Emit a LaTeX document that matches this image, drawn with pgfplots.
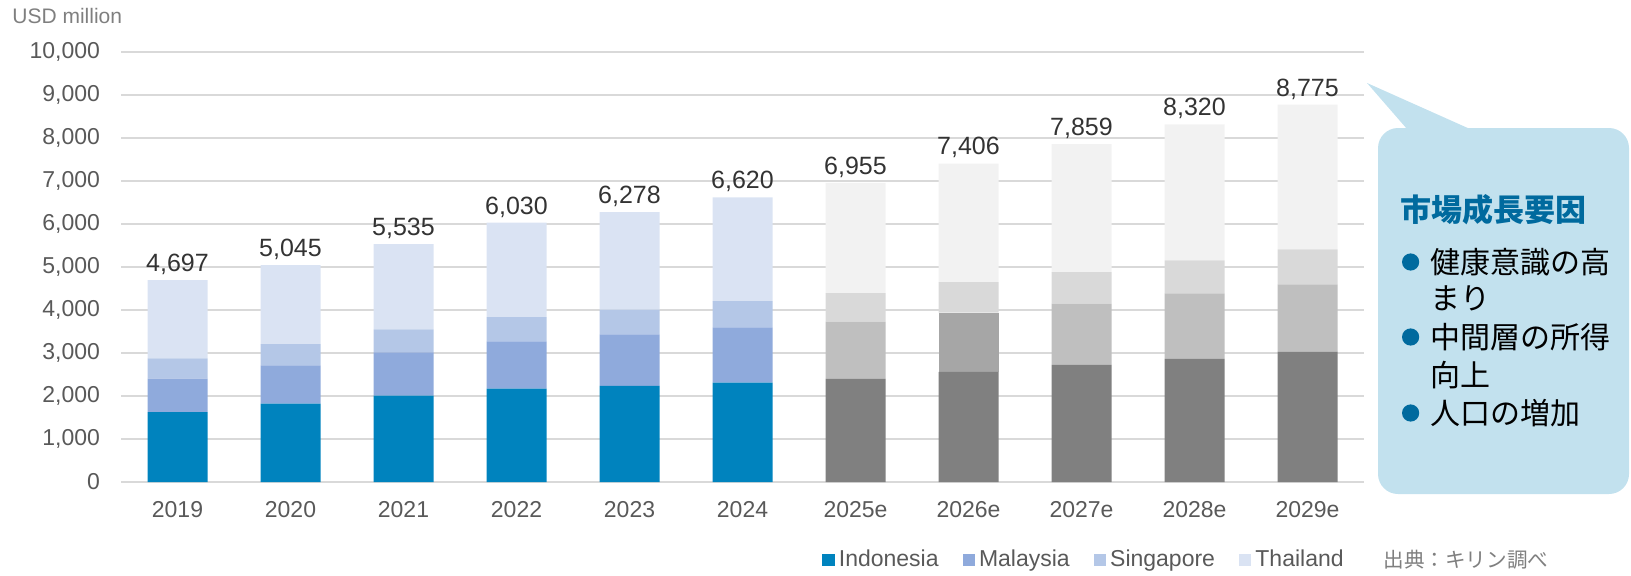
\documentclass[border=0pt]{standalone}
\usepackage{pgfplots}
\pgfplotsset{compat=1.18}
\usepackage{pgfplotstable}
\usepackage{fontspec}
\setmainfont{Liberation Sans}
\newfontfamily\cjk{Noto Sans CJK JP}

\definecolor{indoA}{HTML}{0083BE}
\definecolor{malA}{HTML}{8FAADC}
\definecolor{singA}{HTML}{B4C7E7}
\definecolor{thaiA}{HTML}{DAE3F3}
\definecolor{indoF}{HTML}{808080}
\definecolor{malF}{HTML}{BFBFBF}
\definecolor{malFdark}{HTML}{A6A6A6}
\definecolor{singF}{HTML}{D9D9D9}
\definecolor{thaiF}{HTML}{F2F2F2}
\definecolor{gridgray}{HTML}{D9D9D9}
\definecolor{ticktext}{HTML}{595959}
\definecolor{notegray}{HTML}{7F7F7F}
\definecolor{calloutfill}{HTML}{C2E1EE}
\definecolor{calloutblue}{HTML}{006A9E}

% actual (2019-2024) and forecast (2025e-2029e) segments, USD million
\pgfplotstableread{
x indoA malA singA thaiA indoF malF malFd singF thaiF tot total
0  1628  779 467 1823    0    0    0   0    0 4697 4,697
1  1822  888 499 1836    0    0    0   0    0 5045 5,045
2  2009 1005 537 1984    0    0    0   0    0 5535 5,535
3  2173 1098 561 2198    0    0    0   0    0 6030 6,030
4  2235 1200 576 2267    0    0    0   0    0 6278 6,278
5  2313 1285 608 2414    0    0    0   0    0 6620 6,620
6     0    0   0    0 2399 1332    0 662 2562 6955 6,955
7     0    0   0    0 2562    0 1379 709 2756 7406 7,406
8     0    0   0    0 2726 1425    0 732 2976 7859 7,859
9     0    0   0    0 2866 1519    0 771 3164 8320 8,320
10    0    0   0    0 3030 1565    0 818 3362 8775 8,775
}\market

\pgfplotsset{
  frame/.style={
    at={(60.5pt,-241pt)}, anchor=south west,
    scale only axis,
    width=621.5pt, height=215pt,
    xmin=-0.5, xmax=10.5,
    ymin=0, ymax=10000,
    enlargelimits=false,
  }
}

\begin{document}
\begin{tikzpicture}
\path[use as bounding box] (0,0) rectangle (815.5pt,-287.5pt);

\node[anchor=base west, inner sep=0, text=notegray, font=\fontsize{10.5}{12}\selectfont]
  at (6pt,-11.5pt) {USD million};

\begin{axis}[
    frame,
    ybar stacked,
    bar width=30pt,
    xtick={0,...,10},
    xticklabels={2019,2020,2021,2022,2023,2024,2025e,2026e,2027e,2028e,2029e},
    ytick={0,1000,...,10000},
    scaled y ticks=false,
    ymajorgrids,
    grid style={draw=gridgray, line width=0.75pt},
    axis line style={draw=none},
    major tick style={draw=none},
    /pgf/number format/1000 sep={,},
    /pgf/number format/assume math mode=true,
    ticklabel style={font=\fontsize{11.5}{13}\selectfont, text=ticktext},
    yticklabel style={xshift=-7pt},
    xticklabel style={yshift=-6pt},
    legend image code/.code={\fill[#1] (0pt,-3.1pt) rectangle (6.2pt,3.1pt);},
    legend cell align=left,
    legend columns=4,
    legend style={at={(rel axis cs:0.564,-0.181)}, anchor=west,
        draw=none, fill=none, inner sep=0pt,
        font=\fontsize{11.5}{13}\selectfont, text=ticktext,
        /tikz/every even column/.append style={column sep=10pt}},
]
\addplot[fill=indoA, draw=none] table[x=x, y=indoA] {\market};
\addplot[fill=malA, draw=none] table[x=x, y=malA] {\market};
\addplot[fill=singA, draw=none] table[x=x, y=singA] {\market};
\addplot[fill=thaiA, draw=none] table[x=x, y=thaiA] {\market};
\addplot[fill=indoF, draw=none] table[x=x, y=indoF] {\market};
\addplot[fill=malF, draw=none] table[x=x, y=malF] {\market};
\addplot[fill=malFdark, draw=none] table[x=x, y=malFd] {\market};
\addplot[fill=singF, draw=none] table[x=x, y=singF] {\market};
\addplot[fill=thaiF, draw=none] table[x=x, y=thaiF] {\market};
\legend{Indonesia,Malaysia,Singapore,Thailand}
\end{axis}

% totals above the bars
\begin{axis}[frame, hide axis]
\addplot[draw=none, mark=none,
    point meta=explicit symbolic,
    nodes near coords,
    nodes near coords style={font=\fontsize{12.5}{14}\selectfont, text=black!80, anchor=south, inner sep=2.5pt}]
    table[x=x, y=tot, meta=total] {\market};
\end{axis}

\node[anchor=west, inner sep=0, text=notegray, font=\cjk\fontsize{10.3}{12}\selectfont]
  at (691.5pt,-280pt) {出典：キリン調べ};

% callout
\fill[calloutfill, rounded corners=10pt] (689pt,-64pt) rectangle (814.5pt,-247pt);
\fill[calloutfill] (683.5pt,-41.5pt) -- (735pt,-64.5pt) -- (735pt,-72pt) -- (703.5pt,-72pt) -- (703.5pt,-64.5pt) -- cycle;
\node[anchor=west, inner sep=0, text=calloutblue, font=\cjk\bfseries\fontsize{15.5}{18}\selectfont]
  at (700pt,-105pt) {市場成長要因};
\foreach \yy in {-131pt,-168.5pt,-206.5pt}
  \fill[calloutblue] (705.3pt,\yy) circle (4.3pt);
\begin{scope}[every node/.style={anchor=west, inner sep=0, text=black, font=\cjk\fontsize{15}{18}\selectfont}]
\node at (715pt,-131pt) {健康意識の高};
\node at (715pt,-149pt) {まり};
\node at (715pt,-168.5pt) {中間層の所得};
\node at (715pt,-187.5pt) {向上};
\node at (715pt,-206.5pt) {人口の増加};
\end{scope}
\end{tikzpicture}
\end{document}
